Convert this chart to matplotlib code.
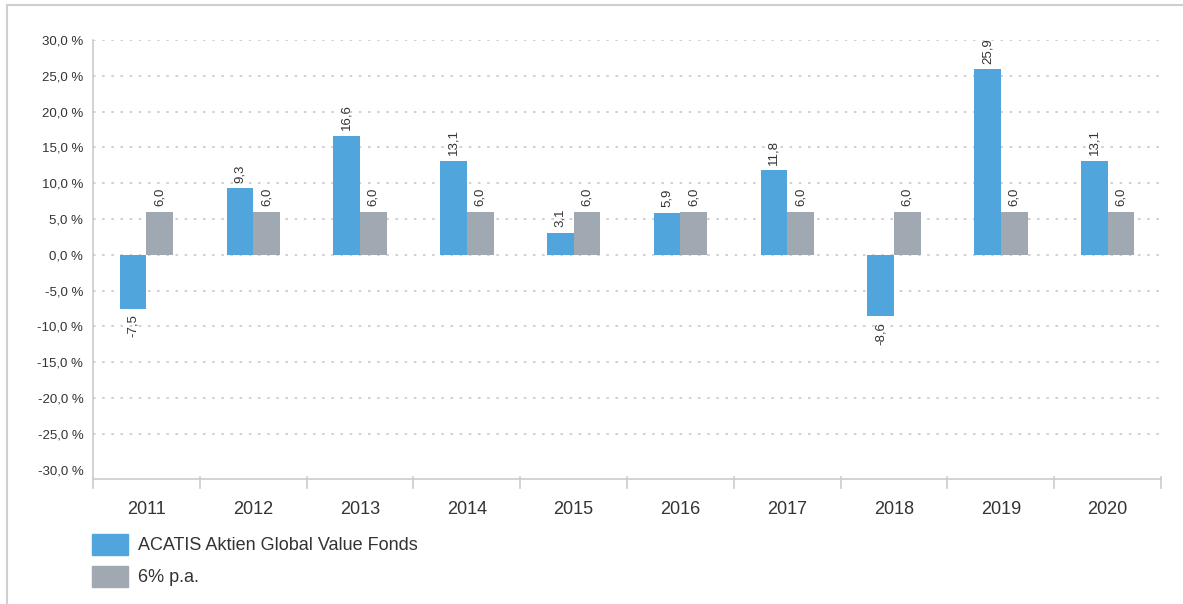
import matplotlib.pyplot as plt
import numpy as np
from matplotlib.patches import Rectangle
from matplotlib.lines import Line2D

plt.rcParams['font.family'] = ['Liberation Sans', 'DejaVu Sans']

years = ['2011', '2012', '2013', '2014', '2015', '2016', '2017', '2018', '2019', '2020']
fonds = [-7.5, 9.3, 16.6, 13.1, 3.1, 5.9, 11.8, -8.6, 25.9, 13.1]
bench = [6.0, 6.0, 6.0, 6.0, 6.0, 6.0, 6.0, 6.0, 6.0, 6.0]
yticks = [-30, -25, -20, -15, -10, -5, 0, 5, 10, 15, 20, 25, 30]

blue = '#4fa5dc'
grey = '#a0a8b2'
txt = '#333333'
axcol = '#cccccc'

fig = plt.figure(figsize=(11.83, 6.04), dpi=100)
ax = fig.add_axes([93 / 1183, 125 / 604, 1068 / 1183, 439 / 604])

x = np.arange(len(years))
w = 0.25
b1 = ax.bar(x - w / 2, fonds, w, color=blue, zorder=3)
b2 = ax.bar(x + w / 2, bench, w, color=grey, zorder=3)

def fmt(v):
    return '{:.1f}'.format(v).replace('.', ',')

for bars, vals in ((b1, fonds), (b2, bench)):
    for r, v in zip(bars, vals):
        cx = r.get_x() + r.get_width() / 2
        if v >= 0:
            ax.annotate(fmt(v), (cx, v), xytext=(0, 4), textcoords='offset points',
                        rotation=90, ha='center', va='bottom', fontsize=9.5, color=txt)
        else:
            ax.annotate(fmt(v), (cx, v), xytext=(0, -4), textcoords='offset points',
                        rotation=90, ha='center', va='top', fontsize=9.5, color=txt)

ax.set_xlim(-0.5, len(years) - 0.5)
ax.set_ylim(-31.3, 30)

for t in yticks[1:]:
    ax.axhline(t, color='#c8c8c8', lw=1.2, ls=(0, (1.5, 4)), zorder=1)

ax.set_yticks(yticks)
ax.set_yticklabels(['{:.1f} %'.format(t).replace('.', ',') for t in yticks],
                   fontsize=9.5, color=txt)
ax.tick_params(axis='y', length=0, pad=7)

ax.set_xticks(x)
ax.set_xticklabels(years, fontsize=13, color=txt)
ax.tick_params(axis='x', length=0, pad=16)
# boundary ticks between categories
for b in np.arange(-0.5, len(years)):
    ax.plot([b, b], [-31.3 + 0.3, -31.3 - 1.3], color=axcol, lw=1.2, clip_on=False, zorder=4)

for s in ['top', 'right']:
    ax.spines[s].set_visible(False)
ax.spines['left'].set_color(axcol)
ax.spines['bottom'].set_color(axcol)
ax.spines['left'].set_linewidth(1.2)
ax.spines['bottom'].set_linewidth(1.2)

# legend
fig.patches.append(Rectangle((92 / 1183, (604 - 555) / 604), 36 / 1183, 21 / 604,
                             transform=fig.transFigure, color=blue))
fig.patches.append(Rectangle((92 / 1183, (604 - 587) / 604), 36 / 1183, 21 / 604,
                             transform=fig.transFigure, color=grey))
fig.text(138 / 1183, (604 - 546) / 604, 'ACATIS Aktien Global Value Fonds',
         fontsize=13, color=txt, va='center')
fig.text(138 / 1183, (604 - 578) / 604, '6% p.a.', fontsize=13, color=txt, va='center')

# outer frame
fig.lines.append(Line2D([7 / 1183, 7 / 1183], [0, 1 - 5 / 604], transform=fig.transFigure,
                        color='#cfcfcf', lw=1.5))
fig.lines.append(Line2D([7 / 1183, 1], [1 - 5 / 604, 1 - 5 / 604], transform=fig.transFigure,
                        color='#cfcfcf', lw=1.5))

fig.savefig('out.png', dpi=100)
